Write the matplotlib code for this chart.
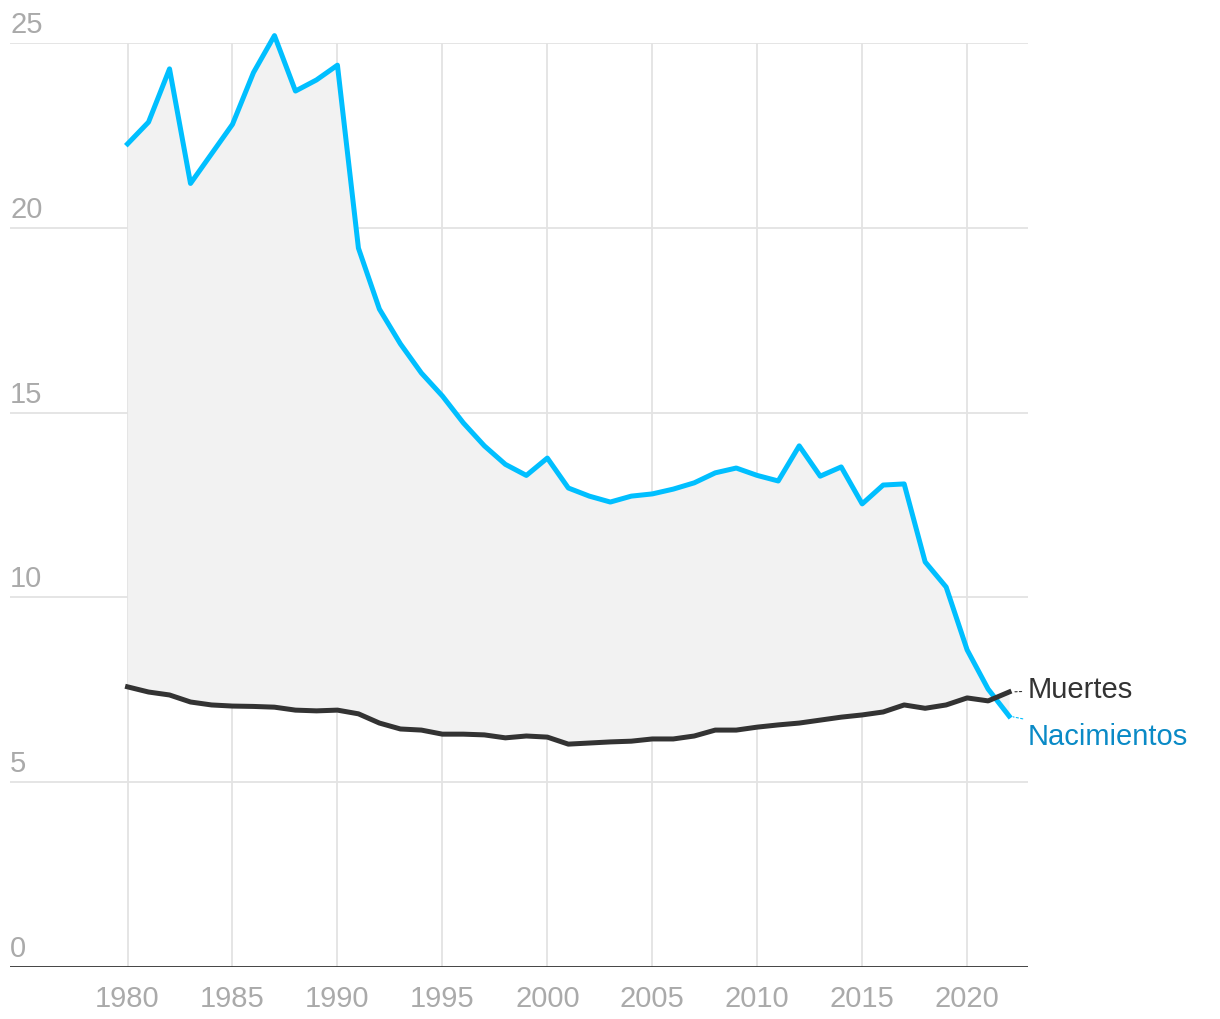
import matplotlib.pyplot as plt
import matplotlib.transforms as mtransforms
import numpy as np

years = list(range(1980, 2023))
nacimientos = [22.27, 22.86, 24.3, 21.2, 22.0, 22.8, 24.2, 25.2, 23.7, 24.0,
               24.4, 19.45, 17.8, 16.86, 16.07, 15.45, 14.72, 14.1, 13.6, 13.3,
               13.77, 12.96, 12.74, 12.58, 12.74, 12.8, 12.93, 13.1, 13.37, 13.5,
               13.3, 13.15, 14.1, 13.28, 13.53, 12.53, 13.04, 13.07, 10.96, 10.28,
               8.58, 7.52, 6.79]
muertes = [7.58, 7.44, 7.36, 7.17, 7.09, 7.06, 7.05, 7.03, 6.95, 6.93,
           6.95, 6.85, 6.6, 6.44, 6.41, 6.3, 6.3, 6.28, 6.2, 6.25,
           6.22, 6.03, 6.06, 6.09, 6.11, 6.17, 6.17, 6.25, 6.41, 6.41,
           6.49, 6.55, 6.6, 6.68, 6.76, 6.82, 6.9, 7.09, 7.0, 7.09,
           7.28, 7.2, 7.44]
xticks = [1980, 1985, 1990, 1995, 2000, 2005, 2010, 2015, 2020]
yticks = [0, 5, 10, 15, 20, 25]

plt.rcParams['font.family'] = ['Liberation Sans', 'DejaVu Sans']

fig = plt.figure(figsize=(12.2, 10.2), dpi=100)
ax = fig.add_axes([10 / 1220, 52 / 1020, 1018 / 1220, 924 / 1020])

azul = '#00bfff'
gris = '#333333'
fs = 21

ax.fill_between(years, muertes, nacimientos, color='#f2f2f2', lw=0, zorder=1)
ax.plot(years, nacimientos, color=azul, lw=3.6, clip_on=False, zorder=3)
ax.plot(years, muertes, color=gris, lw=3.6, clip_on=False, zorder=3)

ax.set_xlim(1974.4, 2022.9)
ax.set_ylim(0, 25)

for x in xticks:
    ax.axvline(x, color='#e3e3e3', lw=1.3, zorder=0)
for y in yticks[1:]:
    ax.axhline(y, color='#e3e3e3', lw=1.3, zorder=0)
ax.axhline(0, color=gris, lw=2, zorder=4)

for s in ax.spines.values():
    s.set_visible(False)
ax.set_yticks([])
ax.set_xticks(xticks)
ax.set_xticklabels([str(x) for x in xticks], color='#aaaaaa', fontsize=fs)
ax.tick_params(axis='x', length=0, pad=12)

trans = mtransforms.blended_transform_factory(ax.transAxes, ax.transData)
trans = trans + mtransforms.ScaledTranslation(0, 0.05, fig.dpi_scale_trans)
for y in yticks:
    ax.text(0, y, str(y), transform=trans, color='#aaaaaa', fontsize=fs,
            ha='left', va='bottom')

ax.annotate('Muertes', xy=(years[-1], muertes[-1]), xytext=(13, 2),
            textcoords='offset points', color=gris, fontsize=fs,
            ha='left', va='center', annotation_clip=False,
            arrowprops=dict(arrowstyle='-', color=gris, lw=0.8, ls=(0, (2, 2)),
                            shrinkA=2, shrinkB=3))
ax.annotate('Nacimientos', xy=(years[-1], nacimientos[-1]), xytext=(13, -14.5),
            textcoords='offset points', color='#0a8ac6', fontsize=fs,
            ha='left', va='center', annotation_clip=False,
            arrowprops=dict(arrowstyle='-', color=azul, lw=0.8, ls=(0, (2, 2)),
                            shrinkA=2, shrinkB=3))

fig.savefig('out.png', dpi=100)
